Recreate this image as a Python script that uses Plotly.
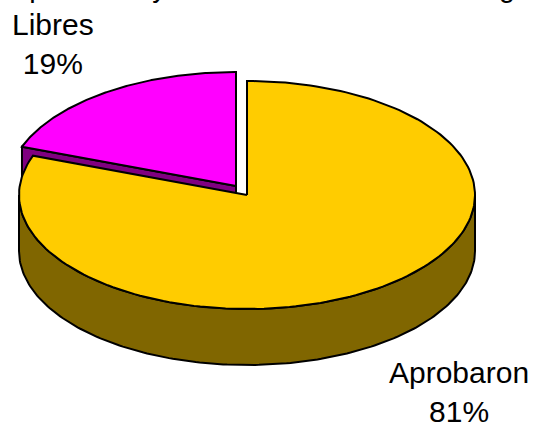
import numpy as np
import plotly.graph_objects as go

categories = ["Aprobaron", "Libres"]
values = [80.6, 19.4]
colors_top = ["#FFCC00", "#FF00FF"]
colors_side = ["#806600", "#800080"]
title_text = "Aprobaron y Libres de la Materia Biología"

W, H = 534, 424
RX, RY, DEPTH = 228, 114, 56
CENTER = {"Aprobaron": (247, 195), "Libres": (236, 186)}
LINE = dict(color="black", width=2)


def arc(cx, cy, a0, a1, dy=0):
    t = np.radians(np.linspace(a0, a1, 181))
    return cx + RX * np.sin(t), cy - RY * np.cos(t) + dy


fractions = np.cumsum([0] + values) / sum(values) * 360
fig = go.Figure()


def add(x, y, color):
    fig.add_trace(go.Scatter(x=list(x), y=list(y), mode="lines", fill="toself",
                             fillcolor=color, line=LINE, hoverinfo="skip",
                             showlegend=False))


# Libres: cut wall, then top face
cx, cy = CENTER["Libres"]
a0, a1 = fractions[1], fractions[2]
ex = cx + RX * np.sin(np.radians(a0))
ey = cy - RY * np.cos(np.radians(a0))
add([cx, ex, ex, cx, cx], [cy, ey, ey + DEPTH, cy + DEPTH, cy], colors_side[1])
ax, ay = arc(cx, cy, a0, a1)
add([cx, *ax, cx], [cy, *ay, cy], colors_top[1])

# Aprobaron: outer wall, then top face
cx, cy = CENTER["Aprobaron"]
a0, a1 = fractions[0], fractions[1]
fx, fy = arc(cx, cy, 90, 270)
bx, by = arc(cx, cy, 270, 90, DEPTH)
add([*fx, *bx, fx[0]], [*fy, *by, fy[0]], colors_side[0])
ax, ay = arc(cx, cy, a0, a1)
add([cx, *ax, cx], [cy, *ay, cy], colors_top[0])

font = dict(family="Liberation Sans, Arial, sans-serif", size=30, color="black")
title_font = dict(family="Liberation Sans, Arial, sans-serif", size=28.75, color="black")
labels = [
    (f"{categories[0]}<br>{values[0]:.0f}%", 459, 392),
    (f"{categories[1]}<br>{values[1]:.0f}%", 53, 44),
]
for text, x, y in labels:
    fig.add_annotation(x=x, y=y, xref="x", yref="y", text=text, showarrow=False,
                       font=font, align="center", xanchor="center", yanchor="middle")
fig.add_annotation(x=8 / W, y=1 + 13 / H, xref="paper", yref="paper", text=title_text,
                   showarrow=False, font=title_font, xanchor="left", yanchor="middle")

fig.update_xaxes(range=[0, W], visible=False)
fig.update_yaxes(range=[H, 0], visible=False)
fig.update_layout(width=W, height=H, margin=dict(l=0, r=0, t=0, b=0),
                  paper_bgcolor="white", plot_bgcolor="white", showlegend=False)
fig.write_html("out.html", config={"displayModeBar": False},
               post_script="document.body.style.margin='0';document.body.style.overflow='hidden';")
